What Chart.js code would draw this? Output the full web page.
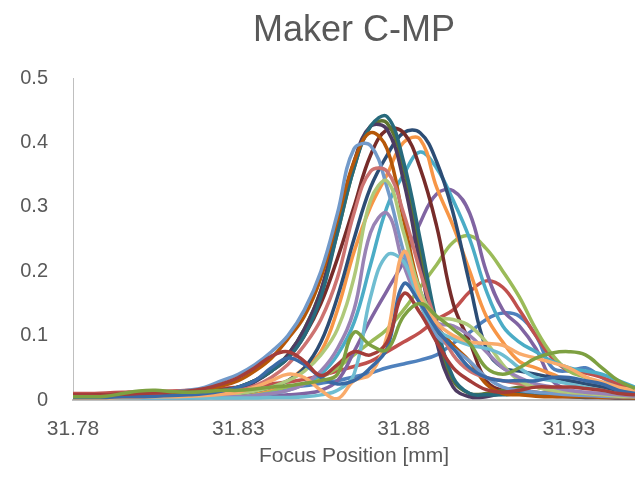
<!DOCTYPE html>
<html>
<head>
<meta charset="utf-8">
<script src="https://cdn.jsdelivr.net/npm/chart.js@4"></script>
<style>
  html, body { margin: 0; padding: 0; background: #fff; }
  #wrap { width: 635px; height: 479px; }
</style>
</head>
<body>
<div id="wrap"><canvas id="chart" width="635" height="479"></canvas></div>
<script>
// focus positions (mm), one every 0.005 mm
const positions = [31.78, 31.785, 31.79, 31.795, 31.80, 31.805, 31.81, 31.815, 31.82, 31.825,
  31.83, 31.835, 31.84, 31.845, 31.85, 31.855, 31.86, 31.865, 31.87, 31.875,
  31.88, 31.885, 31.89, 31.895, 31.90, 31.905, 31.91, 31.915, 31.92, 31.925,
  31.93, 31.935, 31.94, 31.945, 31.95];

const xTicks = [31.78, 31.83, 31.88, 31.93];
const yTicks = [0, 0.1, 0.2, 0.3, 0.4, 0.5];

const s1 = [0.003, 0.003, 0.004, 0.004, 0.005, 0.005, 0.006, 0.007, 0.008, 0.01, 0.012, 0.014, 0.016, 0.019, 0.022, 0.026, 0.03, 0.036, 0.042, 0.05, 0.056, 0.062, 0.07, 0.088, 0.105, 0.125, 0.135, 0.13, 0.1, 0.05, 0.045, 0.05, 0.035, 0.02, 0.01];
const s2 = [0.01, 0.01, 0.011, 0.012, 0.013, 0.013, 0.014, 0.015, 0.016, 0.018, 0.02, 0.022, 0.025, 0.028, 0.032, 0.038, 0.045, 0.052, 0.06, 0.075, 0.09, 0.105, 0.125, 0.14, 0.168, 0.185, 0.175, 0.14, 0.1, 0.065, 0.045, 0.042, 0.035, 0.025, 0.015];
const s3 = [0.005, 0.005, 0.005, 0.005, 0.006, 0.006, 0.007, 0.007, 0.008, 0.009, 0.01, 0.012, 0.015, 0.02, 0.025, 0.035, 0.05, 0.07, 0.09, 0.11, 0.14, 0.175, 0.21, 0.245, 0.255, 0.235, 0.2, 0.16, 0.11, 0.07, 0.045, 0.035, 0.025, 0.015, 0.01];
const s4 = [0.003, 0.003, 0.003, 0.003, 0.003, 0.003, 0.003, 0.003, 0.004, 0.004, 0.004, 0.005, 0.006, 0.008, 0.01, 0.015, 0.03, 0.075, 0.125, 0.17, 0.215, 0.275, 0.32, 0.325, 0.29, 0.2, 0.14, 0.115, 0.08, 0.03, 0.015, 0.01, 0.008, 0.005, 0.004];
const s5 = [0.003, 0.003, 0.003, 0.003, 0.003, 0.003, 0.004, 0.004, 0.004, 0.005, 0.005, 0.007, 0.01, 0.015, 0.025, 0.04, 0.07, 0.12, 0.21, 0.3, 0.35, 0.385, 0.36, 0.31, 0.25, 0.17, 0.115, 0.09, 0.075, 0.06, 0.05, 0.045, 0.04, 0.03, 0.02];
const s6 = [0.005, 0.005, 0.005, 0.005, 0.005, 0.005, 0.006, 0.006, 0.007, 0.008, 0.01, 0.013, 0.018, 0.03, 0.05, 0.075, 0.14, 0.23, 0.3, 0.35, 0.4, 0.405, 0.33, 0.27, 0.2, 0.13, 0.09, 0.06, 0.05, 0.04, 0.03, 0.025, 0.02, 0.015, 0.01];
const s7 = [0.005, 0.005, 0.005, 0.005, 0.005, 0.005, 0.006, 0.006, 0.007, 0.008, 0.01, 0.014, 0.02, 0.03, 0.05, 0.09, 0.16, 0.25, 0.33, 0.38, 0.415, 0.415, 0.37, 0.29, 0.18, 0.08, 0.05, 0.045, 0.04, 0.035, 0.03, 0.025, 0.02, 0.012, 0.008];
const s8 = [0.008, 0.008, 0.008, 0.009, 0.01, 0.01, 0.011, 0.012, 0.014, 0.016, 0.02, 0.03, 0.045, 0.065, 0.1, 0.15, 0.22, 0.3, 0.38, 0.42, 0.415, 0.36, 0.27, 0.15, 0.09, 0.03, 0.015, 0.015, 0.012, 0.01, 0.008, 0.007, 0.006, 0.005, 0.005];
const s9 = [0.005, 0.005, 0.005, 0.005, 0.006, 0.006, 0.007, 0.008, 0.01, 0.014, 0.02, 0.03, 0.045, 0.07, 0.11, 0.17, 0.26, 0.36, 0.425, 0.43, 0.36, 0.23, 0.1, 0.03, 0.01, 0.01, 0.015, 0.02, 0.02, 0.015, 0.01, 0.008, 0.006, 0.005, 0.005];
const s10 = [0.004, 0.004, 0.004, 0.004, 0.005, 0.005, 0.006, 0.007, 0.009, 0.012, 0.018, 0.028, 0.045, 0.07, 0.11, 0.17, 0.27, 0.37, 0.425, 0.42, 0.34, 0.21, 0.09, 0.02, 0.005, 0.005, 0.01, 0.01, 0.008, 0.006, 0.005, 0.004, 0.004, 0.003, 0.003];
const s11 = [0.005, 0.005, 0.005, 0.005, 0.006, 0.006, 0.007, 0.008, 0.01, 0.014, 0.02, 0.03, 0.045, 0.065, 0.1, 0.16, 0.26, 0.36, 0.425, 0.44, 0.37, 0.25, 0.12, 0.035, 0.01, 0.008, 0.008, 0.01, 0.01, 0.008, 0.006, 0.005, 0.005, 0.004, 0.004];
const s12 = [0.005, 0.005, 0.005, 0.006, 0.007, 0.008, 0.01, 0.013, 0.017, 0.022, 0.03, 0.045, 0.065, 0.095, 0.13, 0.19, 0.28, 0.37, 0.415, 0.39, 0.28, 0.17, 0.115, 0.085, 0.06, 0.025, 0.01, 0.008, 0.006, 0.005, 0.005, 0.005, 0.004, 0.004, 0.003];
const s13 = [0.006, 0.006, 0.007, 0.008, 0.009, 0.01, 0.012, 0.015, 0.02, 0.03, 0.04, 0.055, 0.075, 0.1, 0.14, 0.2, 0.29, 0.39, 0.395, 0.33, 0.23, 0.15, 0.1, 0.08, 0.06, 0.035, 0.02, 0.015, 0.012, 0.01, 0.008, 0.007, 0.006, 0.005, 0.005];
const s14 = [0.005, 0.005, 0.005, 0.006, 0.006, 0.007, 0.008, 0.009, 0.011, 0.013, 0.015, 0.022, 0.035, 0.055, 0.085, 0.125, 0.19, 0.29, 0.355, 0.355, 0.29, 0.2, 0.12, 0.07, 0.045, 0.035, 0.03, 0.025, 0.02, 0.015, 0.012, 0.01, 0.008, 0.006, 0.005];
const s15 = [0.004, 0.004, 0.004, 0.005, 0.005, 0.005, 0.006, 0.006, 0.007, 0.008, 0.01, 0.014, 0.02, 0.03, 0.045, 0.07, 0.11, 0.19, 0.31, 0.34, 0.26, 0.17, 0.13, 0.125, 0.115, 0.09, 0.055, 0.03, 0.02, 0.015, 0.012, 0.01, 0.008, 0.006, 0.005];
const s16 = [0.003, 0.003, 0.003, 0.003, 0.003, 0.003, 0.004, 0.004, 0.004, 0.005, 0.005, 0.007, 0.01, 0.015, 0.025, 0.045, 0.08, 0.14, 0.26, 0.29, 0.21, 0.15, 0.12, 0.115, 0.1, 0.075, 0.05, 0.035, 0.025, 0.02, 0.015, 0.012, 0.01, 0.008, 0.006];
const s17 = [0.003, 0.003, 0.003, 0.003, 0.003, 0.003, 0.003, 0.003, 0.003, 0.003, 0.003, 0.003, 0.004, 0.004, 0.005, 0.008, 0.015, 0.04, 0.16, 0.225, 0.215, 0.15, 0.11, 0.095, 0.085, 0.08, 0.07, 0.05, 0.035, 0.03, 0.025, 0.02, 0.015, 0.01, 0.008];
const s18 = [0.003, 0.003, 0.003, 0.004, 0.004, 0.005, 0.005, 0.006, 0.007, 0.009, 0.012, 0.02, 0.03, 0.04, 0.035, 0.015, 0.002, 0.03, 0.04, 0.1, 0.23, 0.16, 0.12, 0.1, 0.09, 0.088, 0.085, 0.072, 0.065, 0.058, 0.05, 0.036, 0.028, 0.02, 0.015];
const s19 = [0.004, 0.004, 0.004, 0.005, 0.005, 0.006, 0.007, 0.008, 0.01, 0.014, 0.02, 0.03, 0.05, 0.065, 0.055, 0.035, 0.025, 0.03, 0.05, 0.08, 0.18, 0.15, 0.11, 0.08, 0.05, 0.035, 0.03, 0.03, 0.03, 0.035, 0.035, 0.03, 0.025, 0.015, 0.01];
const s20 = [0.008, 0.008, 0.008, 0.009, 0.01, 0.011, 0.012, 0.014, 0.018, 0.025, 0.035, 0.05, 0.068, 0.075, 0.06, 0.038, 0.055, 0.075, 0.07, 0.09, 0.165, 0.135, 0.09, 0.05, 0.03, 0.016, 0.012, 0.015, 0.02, 0.02, 0.02, 0.018, 0.015, 0.01, 0.008];
const s21 = [0.005, 0.005, 0.006, 0.01, 0.014, 0.015, 0.013, 0.012, 0.013, 0.015, 0.015, 0.017, 0.02, 0.022, 0.026, 0.03, 0.04, 0.105, 0.085, 0.078, 0.13, 0.15, 0.13, 0.11, 0.088, 0.05, 0.04, 0.05, 0.065, 0.073, 0.075, 0.07, 0.05, 0.03, 0.018];

const series = [s1, s2, s3, s4, s5, s6, s7, s8, s9, s10, s11, s12, s13, s14, s15, s16, s17, s18, s19, s20, s21];
const colors = ['#4F81BD', '#C0504D', '#9BBB59', '#8064A2', '#4BACC6', '#F79646',
  '#2C4D75', '#772C2A', '#5F7530', '#4D3B62', '#276A7C', '#B65708',
  '#729ACA', '#CD7371', '#AFC97A', '#9983B5', '#6FBDD1', '#F9AB6B',
  '#3A6AA6', '#A43D3A', '#7DA041'];

const chartTitle = 'Maker C-MP';
const textColor = '#595959';
const font = 'Arial, "Liberation Sans", sans-serif';

// title centred over the plot area, like Excel does it
const plotTitle = {
  id: 'plotTitle',
  afterDraw(chart) {
    const { ctx, chartArea } = chart;
    ctx.save();
    ctx.fillStyle = textColor;
    ctx.font = '36px ' + font;
    ctx.textAlign = 'center';
    ctx.textBaseline = 'middle';
    ctx.fillText(chartTitle, (chartArea.left + chartArea.right) / 2, 31);
    ctx.restore();
  }
};

const datasets = series.map((vals, i) => ({
  label: 'Series' + (i + 1),
  data: vals.map((v, j) => ({ x: positions[j], y: v })),
  borderColor: colors[i],
  borderWidth: 3.5,
  pointRadius: 0,
  tension: 0.4,
  fill: false,
  order: series.length - i
}));

new Chart(document.getElementById('chart'), {
  type: 'line',
  data: { datasets: datasets },
  plugins: [plotTitle],
  options: {
    responsive: false,
    animation: false,
    layout: { padding: { left: 0, right: 0, top: 78, bottom: 0 } },
    plugins: {
      legend: { display: false },
      tooltip: { enabled: false },
      title: { display: false }
    },
    scales: {
      x: {
        type: 'linear',
        min: 31.78,
        max: 31.95,
        afterBuildTicks: s => { s.ticks = xTicks.map(v => ({ value: v })); },
        afterFit: s => { s.height = 79; },
        grid: { display: false, drawTicks: false },
        border: { display: true, color: '#BFBFBF', width: 2 },
        ticks: {
          color: textColor,
          font: { family: font, size: 21 },
          padding: 17,
          maxRotation: 0,
          callback: v => v.toFixed(2)
        },
        title: {
          display: true,
          text: 'Focus Position [mm]',
          color: textColor,
          font: { family: font, size: 21 },
          padding: { top: 0, bottom: 10 }
        }
      },
      y: {
        min: 0,
        max: 0.5,
        afterBuildTicks: s => { s.ticks = yTicks.map(v => ({ value: v })); },
        afterFit: s => { s.width = 73; },
        grid: { display: false, drawTicks: false },
        border: { display: true, color: '#BFBFBF', width: 1 },
        ticks: {
          color: textColor,
          font: { family: font, size: 20 },
          padding: 25,
          callback: v => String(v)
        }
      }
    }
  }
});
</script>
</body>
</html>
